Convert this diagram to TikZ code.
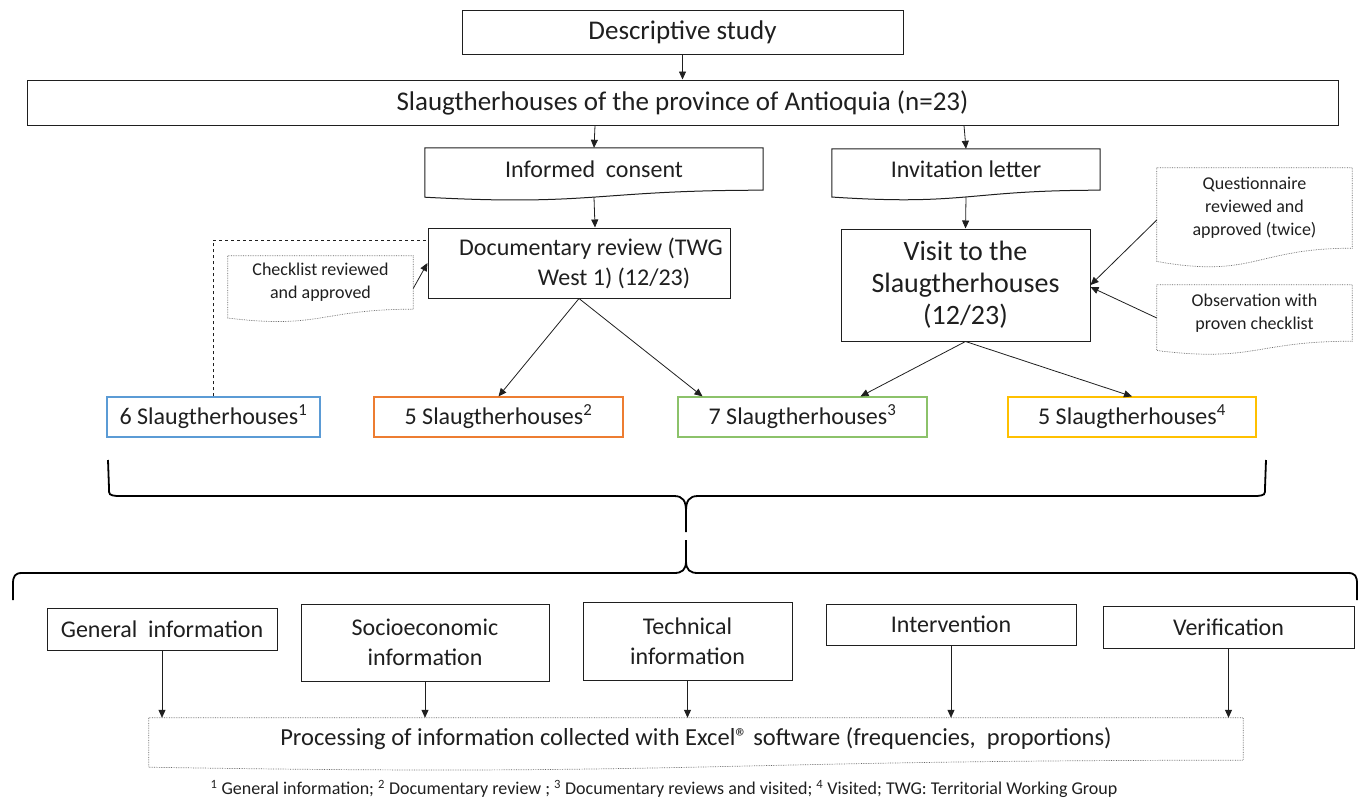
\documentclass[tikz,border=0pt]{standalone}
\usepackage{fontspec}
\setmainfont{Carlito}
\usetikzlibrary{arrows.meta,calc}
\definecolor{inkline}{HTML}{1F1F1F}
\definecolor{notegray}{HTML}{666666}
\definecolor{groupblue}{HTML}{5B9BD5}
\definecolor{grouporange}{HTML}{ED7D31}
\definecolor{groupgreen}{HTML}{8CC26A}
\definecolor{groupyellow}{HTML}{FFC000}

%% contorno tipo "documento" (borde inferior ondulado) alrededor de un nodo
\newcommand{\docoutline}[2]{%
  \draw[#1] (#2.north west) -- (#2.north east) -- (#2.south east)
    .. controls (#2.south) and ($(#2.north)!1.38!(#2.south)$)
    .. ($(#2.north west)!1.165!(#2.south west)$) -- cycle;}

\begin{document}
\begin{tikzpicture}[x=1pt, y=-1pt, >={Triangle[length=8pt, width=7pt]},
                    every node/.style={inkline},
                    flowbox/.style={draw=inkline, line width=1pt, fill=white, inner sep=0pt,
                                    align=center, font=\fontsize{24}{30}\selectfont},
                    colbox/.style={draw=#1, line width=1.2pt, inner sep=0pt,
                                   minimum height=40pt, font=\fontsize{24}{30}\selectfont},
                    docnote/.style={inner sep=0pt, align=center},
                    notestyle/.style={notegray, densely dotted, line width=0.7pt},
                    flowarrow/.style={->, inkline, line width=0.8pt},
                    bracestyle/.style={black, line width=1.8pt}]

  \useasboundingbox (0,0) rectangle (1368,801);

  %% parte superior
  \node[flowbox, minimum width=441pt, minimum height=44pt, font=\fontsize{27}{32}\selectfont]
    (desc) at (682.5,32) {Descriptive study};
  \node[flowbox, minimum width=1311pt, minimum height=45pt, font=\fontsize{27}{32}\selectfont]
    (title) at (682.5,102.5) {Slaugtherhouses of the province of Antioquia (n=23)};

  %% documentos de entrada
  \node[docnote, minimum width=338pt, minimum height=42pt, font=\fontsize{24}{30}\selectfont]
    (consent) at (594,169) {Informed~~consent};
  \docoutline{inkline, line width=1pt}{consent}
  \node[docnote, minimum width=268pt, minimum height=41pt, font=\fontsize{24}{30}\selectfont]
    (invite) at (966,169.5) {Invitation letter};
  \docoutline{inkline, line width=1pt}{invite}

  %% revisión documental y visita
  \node[flowbox, minimum width=302pt, minimum height=70pt] (docrev) at (579,263)
    {\hspace*{24pt}Documentary review (TWG\\\hspace*{70pt}West 1) (12/23)};
  \node[flowbox, minimum width=249pt, minimum height=112pt, font=\fontsize{28}{32}\selectfont]
    (visit) at (965.5,285) {Visit to the\\Slaugtherhouses\\(12/23)};

  %% notas punteadas
  \node[docnote, minimum width=185pt, minimum height=53pt, font=\fontsize{18}{23}\selectfont]
    (check) at (320.5,282.5) {Checklist reviewed\\and approved};
  \docoutline{notestyle}{check}
  \node[docnote, minimum width=195pt, minimum height=80pt, font=\fontsize{18}{23}\selectfont]
    (quest) at (1254.5,208) {Questionnaire\\reviewed and\\approved (twice)};
  \docoutline{notestyle}{quest}
  \node[docnote, minimum width=195pt, minimum height=56pt, font=\fontsize{18}{23}\selectfont]
    (observ) at (1254.5,313) {Observation with\\proven checklist};
  \docoutline{notestyle}{observ}

  %% grupos de mataderos
  \node[colbox=groupblue, minimum width=213pt] (six) at (213.5,417)
    {6 Slaugtherhouses\textsuperscript{1}};
  \node[colbox=grouporange, minimum width=249pt] (fiveA) at (498.5,417)
    {5 Slaugtherhouses\textsuperscript{2}};
  \node[colbox=groupgreen, minimum width=249pt] (seven) at (802.5,417)
    {7 Slaugtherhouses\textsuperscript{3}};
  \node[colbox=groupyellow, minimum width=248pt] (fiveB) at (1132,417)
    {5 Slaugtherhouses\textsuperscript{4}};

  %% flechas
  \draw[flowarrow] (desc) -- (title);
  \draw[flowarrow] ([xshift=-87.5pt]title.south) -- (consent.north);
  \draw[flowarrow] ([xshift=281.5pt]title.south) -- (invite.north);
  \draw[flowarrow] ([yshift=-7pt]consent.south) -- ([xshift=16pt]docrev.north);
  \draw[flowarrow] ([yshift=-7pt]invite.south) -- (visit.north);
  \draw[flowarrow] ([yshift=-6pt]check.east) -- (docrev.west);
  \draw[inkline, line width=0.8pt, dashed] (six.north) |- ([yshift=23pt]docrev.west);
  \draw[flowarrow] ([yshift=-12pt]quest.west) -- (visit.east);
  \draw[flowarrow] ([yshift=-5pt]observ.west) -- ([yshift=-2pt]visit.east);
  \draw[flowarrow] (docrev.south) -- (fiveA.north);
  \draw[flowarrow] (docrev.south) -- ([xshift=-100pt]seven.north);
  \draw[flowarrow] (visit.south) -- ([xshift=58pt]seven.north);
  \draw[flowarrow] (visit.south) -- (fiveB.north);

  %% llaves
  \draw[bracestyle] (108,460) -- (109,488) .. controls (109,495) .. (117,496) -- (674,496)
    .. controls (683,496) and (686,501) .. (686,511) -- (686,532);
  \draw[bracestyle] (1266,460) -- (1265,488) .. controls (1265,495) .. (1257,496) -- (698,496)
    .. controls (689,496) and (686,501) .. (686,511);
  \draw[bracestyle] (686,540) -- (686,561) .. controls (686,570) and (682,573) .. (674,573)
    -- (22,573) .. controls (15,573) and (13,576) .. (13,584) -- (13,600);
  \draw[bracestyle] (686,561) .. controls (686,570) and (690,573) .. (698,573)
    -- (1348,573) .. controls (1355,573) and (1357,576) .. (1357,584) -- (1357,600);

  %% parte inferior
  \node[flowbox, minimum width=230pt, minimum height=42pt] (general) at (162,629)
    {General~~information};
  \node[flowbox, minimum width=248pt, minimum height=77pt] (socio) at (425,642.5)
    {Socioeconomic\\information};
  \node[flowbox, minimum width=209pt, minimum height=78pt] (tech) at (687.5,641)
    {Technical\\information};
  \node[flowbox, minimum width=250pt, minimum height=41pt] (interv) at (951,624.5)
    {Intervention};
  \node[flowbox, minimum width=251pt, minimum height=42pt] (verif) at (1228.5,627)
    {Verification};

  \node[docnote, minimum width=1094pt, minimum height=42pt, font=\fontsize{24.5}{30}\selectfont]
    (proc) at (696,739)
    {Processing of information collected with Excel® software (frequencies,~~proportions)};
  \docoutline{notestyle}{proc}

  \foreach \src in {general, socio, tech, interv, verif}
    \draw[flowarrow] (\src.south) -- (\src.south |- proc.north);

  %% nota al pie
  \node[inner sep=0pt, font=\fontsize{18}{21}\selectfont] (foot) at (664,789)
    {\textsuperscript{1} General information; \textsuperscript{2} Documentary review ; \textsuperscript{3} Documentary reviews and visited; \textsuperscript{4} Visited; TWG: Territorial Working Group};

\end{tikzpicture}
\end{document}
